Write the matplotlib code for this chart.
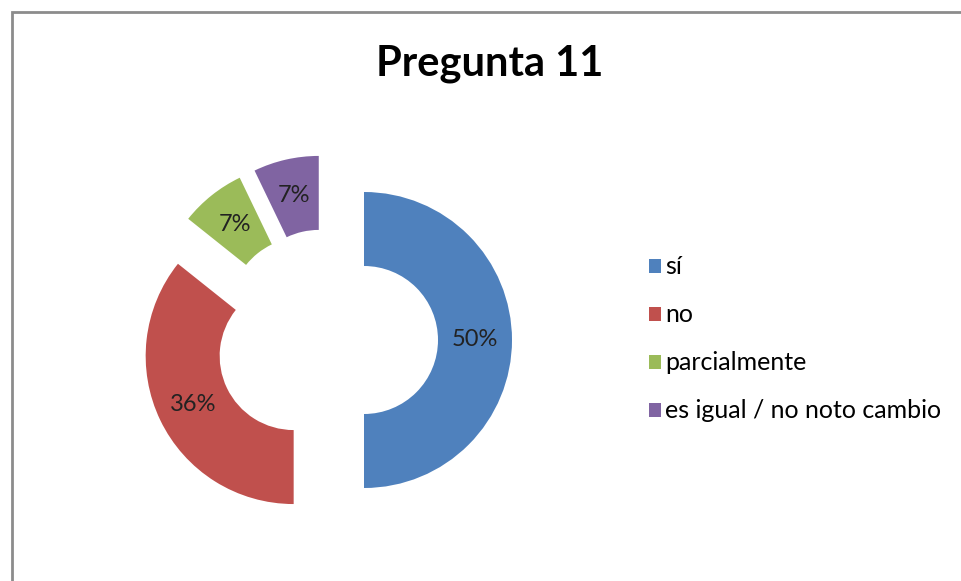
import matplotlib.pyplot as plt
from matplotlib.patches import Rectangle

# datos de la pregunta 11
labels = ['sí', 'no', 'parcialmente', 'es igual / no noto cambio']
counts = [7, 5, 1, 1]
colors = ['#4F81BD', '#C0504D', '#9BBB59', '#8064A2']

plt.rcParams['font.family'] = ['Lato', 'DejaVu Sans']

fig = plt.figure(figsize=(9.62, 5.81), dpi=100)
ax = fig.add_axes([0, 0, 1, 1])

# borde gris del grafico
fig.patches.append(Rectangle((12 / 962, -0.05), 1.1, 1.05 - 12 / 581,
                             transform=fig.transFigure, fill=False,
                             edgecolor='#8c8c8c', linewidth=2))

# explode va en unidades de datos (pixeles aqui)
wedges, texts, autotexts = ax.pie(
    counts, colors=colors, startangle=90, counterclock=False,
    center=(327, 241), radius=148, explode=[37] * 4,
    autopct='%1.0f%%', pctdistance=0.75,
    wedgeprops=dict(width=74, linewidth=0),
    textprops=dict(fontsize=17, color='#222222'))

ax.set_xlim(0, 962)
ax.set_ylim(0, 581)
ax.set_aspect('auto')
ax.axis('off')

fig.text(490 / 962, 1 - 64 / 581, 'Pregunta 11', ha='center', va='center',
         fontsize=30, fontweight='bold', color='black')

fig.legend(wedges, labels, loc='center left', bbox_to_anchor=(649 / 962, 1 - 339 / 581),
           frameon=False, fontsize=18, handlelength=0.5, handleheight=0.5,
           handletextpad=0.15, labelspacing=1.0, borderpad=0, borderaxespad=0)

plt.savefig('out.png', dpi=100)
